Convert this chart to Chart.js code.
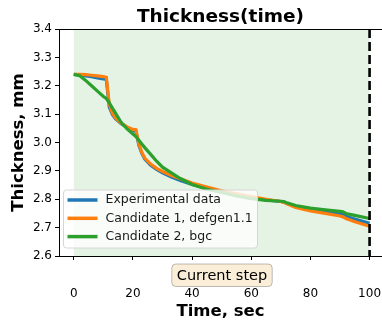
<!DOCTYPE html>
<html>
<head>
<meta charset="utf-8">
<script src="https://cdn.jsdelivr.net/npm/chart.js@4.4.1/dist/chart.umd.min.js"></script>
<style>
  html, body { margin: 0; padding: 0; background: #fff; overflow: hidden; }
</style>
</head>
<body>
<canvas id="chart" width="382" height="322"></canvas>
<script>
// Data
const timeSec = [0, 2, 4, 6, 8, 10, 11, 12, 13, 14, 16, 18, 20, 21, 22, 23, 24, 26, 28, 30,
  33, 36, 40, 45, 50, 55, 60, 65, 70, 71, 72, 75, 80, 85, 90, 91, 92, 95, 100];
const experimental = [3.240, 3.238, 3.235, 3.232, 3.228, 3.224, 3.222, 3.125, 3.100, 3.085, 3.066, 3.053, 3.043, 3.040, 2.990, 2.962, 2.942, 2.920, 2.905, 2.893,
  2.878, 2.866, 2.852, 2.838, 2.826, 2.816, 2.806, 2.798, 2.792, 2.790, 2.786, 2.775, 2.764, 2.756, 2.748, 2.746, 2.740, 2.730, 2.715];
const candidate1 = [3.240, 3.240, 3.239, 3.237, 3.235, 3.232, 3.230, 3.135, 3.105, 3.088, 3.068, 3.055, 3.046, 3.045, 2.995, 2.965, 2.945, 2.924, 2.909, 2.898,
  2.884, 2.872, 2.857, 2.843, 2.830, 2.819, 2.809, 2.800, 2.792, 2.789, 2.784, 2.771, 2.759, 2.750, 2.741, 2.738, 2.732, 2.721, 2.705];
const candidate2 = [3.240, 3.235, 3.219, 3.200, 3.181, 3.162, 3.155, 3.140, 3.122, 3.105, 3.071, 3.048, 3.030, 3.021, 3.008, 2.995, 2.982, 2.958, 2.934, 2.913,
  2.893, 2.873, 2.852, 2.835, 2.824, 2.812, 2.802, 2.796, 2.793, 2.792, 2.788, 2.778, 2.769, 2.763, 2.757, 2.756, 2.750, 2.743, 2.732];
const seriesNames = ['Experimental data', 'Candidate 1, defgen1.1', 'Candidate 2, bgc'];
const seriesColors = ['#1f77b4', '#ff7f0e', '#2ca02c'];
const xTicks = [0, 20, 40, 60, 80, 100];
const yTicks = [2.6, 2.7, 2.8, 2.9, 3.0, 3.1, 3.2, 3.3, 3.4];
const currentStep = 100;
const stepLabel = 'Current step';

const FONT = 'DejaVu Sans';

function toPoints(values) {
    return timeSec.map((t, i) => ({ x: t, y: values[i] }));
}

// Shaded region + dashed marker at the current step
const stepPlugin = {
    id: 'stepPlugin',
    beforeDatasetsDraw(chart) {
        const { ctx, chartArea, scales } = chart;
        const x0 = scales.x.getPixelForValue(0);
        const x1 = scales.x.getPixelForValue(currentStep);
        ctx.save();
        ctx.fillStyle = 'rgba(44, 160, 44, 0.12)';
        ctx.fillRect(x0, chartArea.top, x1 - x0, chartArea.bottom - chartArea.top);
        ctx.restore();
    },
    afterDatasetsDraw(chart) {
        const { ctx, chartArea, scales } = chart;
        const x = scales.x.getPixelForValue(currentStep);
        ctx.save();
        ctx.strokeStyle = '#000';
        ctx.lineWidth = 2.6;
        ctx.setLineDash([9, 4]);
        ctx.beginPath();
        ctx.moveTo(x, chartArea.top);
        ctx.lineTo(x, chartArea.bottom);
        ctx.stroke();
        ctx.setLineDash([]);
        // top spine
        ctx.lineWidth = 1;
        ctx.beginPath();
        ctx.moveTo(chartArea.left, chartArea.top + 0.5);
        ctx.lineTo(chartArea.right, chartArea.top + 0.5);
        ctx.stroke();
        ctx.restore();
    }
};

// Legend inside the plot, lower left
const innerLegend = {
    id: 'innerLegend',
    afterDraw(chart) {
        const { ctx, chartArea } = chart;
        const left = chartArea.left + 4.5;
        const top = chartArea.bottom - 66;
        const w = 194, h = 58;
        ctx.save();
        ctx.beginPath();
        ctx.roundRect(left, top, w, h, 3);
        ctx.fillStyle = 'rgba(255, 255, 255, 0.8)';
        ctx.fill();
        ctx.strokeStyle = '#d6d6d6';
        ctx.lineWidth = 1;
        ctx.stroke();
        ctx.font = '12.5px "' + FONT + '"';
        ctx.textBaseline = 'middle';
        ctx.fillStyle = '#1a1a1a';
        seriesNames.forEach((name, i) => {
            const y = top + 10 + i * 18.3;
            ctx.strokeStyle = seriesColors[i];
            ctx.lineWidth = 3.5;
            ctx.beginPath();
            ctx.moveTo(left + 4, y);
            ctx.lineTo(left + 34, y);
            ctx.stroke();
            ctx.fillText(name, left + 42, y);
        });
        ctx.restore();
    }
};

// "Current step" label box under the axis
const stepBox = {
    id: 'stepBox',
    afterDraw(chart) {
        const { ctx, chartArea } = chart;
        const cx = (chartArea.left + chartArea.right) / 2 + 1.5;
        const top = chartArea.bottom + 8;
        ctx.save();
        ctx.font = '14.5px "' + FONT + '"';
        const tw = ctx.measureText(stepLabel).width;
        const w = tw + 10, h = 22.5;
        ctx.beginPath();
        ctx.roundRect(cx - w / 2, top, w, h, 4);
        ctx.fillStyle = 'rgba(245, 222, 179, 0.5)';
        ctx.fill();
        ctx.strokeStyle = 'rgba(0, 0, 0, 0.25)';
        ctx.lineWidth = 1;
        ctx.stroke();
        ctx.fillStyle = '#000';
        ctx.textAlign = 'center';
        ctx.textBaseline = 'middle';
        ctx.fillText(stepLabel, cx, top + h / 2 + 0.5);
        ctx.restore();
    }
};

const datasets = [experimental, candidate1, candidate2].map((values, i) => ({
    label: seriesNames[i],
    data: toPoints(values),
    borderColor: seriesColors[i],
    backgroundColor: seriesColors[i],
    borderWidth: 3.2,
    pointRadius: 0,
    tension: 0,
    order: 2 - i
}));

const tickFont = { family: FONT, size: 12 };
const labelFont = { family: FONT, size: 16.5, weight: 'bold' };

new Chart(document.getElementById('chart'), {
    type: 'line',
    data: { datasets: datasets },
    options: {
        responsive: false,
        animation: false,
        devicePixelRatio: 1,
        layout: { padding: 0 },
        plugins: {
            legend: { display: false },
            tooltip: { enabled: false },
            title: {
                display: true,
                text: 'Thickness(time)',
                fullSize: false,
                color: '#000',
                font: { family: FONT, size: 18.5, weight: 'bold' },
                padding: { top: 5.8, bottom: 1 }
            }
        },
        scales: {
            x: {
                type: 'linear',
                min: -5,
                max: 104.2,
                afterBuildTicks: s => { s.ticks = xTicks.map(v => ({ value: v })); },
                afterFit: s => { s.height = 66; s.paddingLeft = 0; s.paddingRight = 0; },
                grid: { drawOnChartArea: false, drawTicks: true, tickLength: 4, color: '#000' },
                border: { display: true, color: '#000', width: 1 },
                ticks: { padding: 27, color: '#000', font: tickFont, maxRotation: 0 },
                title: { display: true, text: 'Time, sec', color: '#000', font: labelFont, padding: { top: 0, bottom: 0.4 } }
            },
            y: {
                min: 2.6,
                max: 3.4,
                afterBuildTicks: s => { s.ticks = yTicks.map(v => ({ value: v })); },
                afterFit: s => { s.width = 59; s.paddingTop = 0; s.paddingBottom = 0; },
                grid: { drawOnChartArea: false, drawTicks: true, tickLength: 4, color: '#000' },
                border: { display: true, color: '#000', width: 1 },
                ticks: { padding: 3, color: '#000', font: tickFont, callback: v => v.toFixed(1) },
                title: { display: true, text: 'Thickness, mm', color: '#000', font: labelFont, padding: { top: 8.4, bottom: 0 } }
            }
        }
    },
    plugins: [stepPlugin, innerLegend, stepBox]
});
</script>
</body>
</html>
